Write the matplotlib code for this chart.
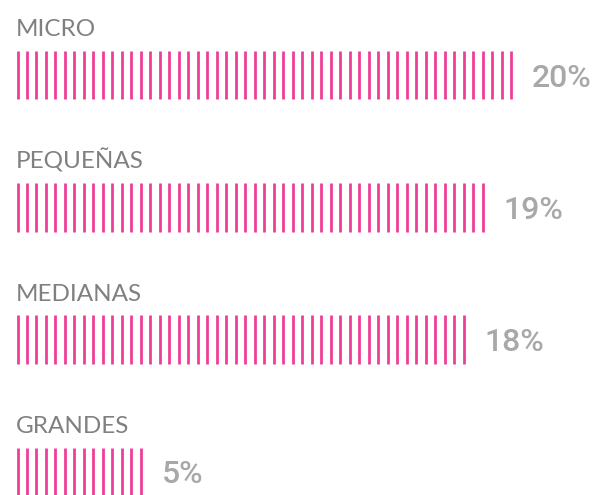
import numpy as np
import matplotlib
matplotlib.use("Agg")
import matplotlib.pyplot as plt

# Share of companies by size
categories = ["MICRO", "PEQUEÑAS", "MEDIANAS", "GRANDES"]
values = [20, 19, 18, 5]
value_labels = ["20%", "19%", "18%", "5%"]

PINK = "#F03E98"
LABEL_GRAY = "#808080"
VALUE_GRAY = "#A8A8A8"
STEP = 0.383          # spacing between stripes, in percentage points
HALF_H = 0.183        # half height of a striped bar, in row units

W, H, DPI = 597, 495, 100
fig = plt.figure(figsize=(W / DPI, H / DPI), dpi=DPI)
ax = fig.add_axes([0, 0, 1, 1])
ax.set_axis_off()

px_per_pct = 24.78
px_per_row = 132.3
x0_px, y0_px = 17.5, 75.0
ax.set_xlim(-x0_px / px_per_pct, (W - x0_px) / px_per_pct)
ax.set_ylim((H - y0_px) / px_per_row, -y0_px / px_per_row)

for i, (cat, val, lab) in enumerate(zip(categories, values, value_labels)):
    xs = np.arange(0, val + STEP * 0.1, STEP)
    ax.vlines(xs, i - HALF_H, i + HALF_H, colors=PINK, linewidth=2.0)
    ax.text(-0.06, i - 39 / px_per_row, cat, ha="left", va="baseline",
            fontsize=17.5, color=LABEL_GRAY, family="Lato",
            fontweight="normal")
    ax.annotate(lab, xy=(xs[-1], i), xytext=(21, -3), textcoords="offset pixels",
                ha="left", va="center", fontsize=23, color=VALUE_GRAY,
                family="Roboto", fontweight="medium")

fig.savefig("out.png", dpi=DPI, facecolor="white")
